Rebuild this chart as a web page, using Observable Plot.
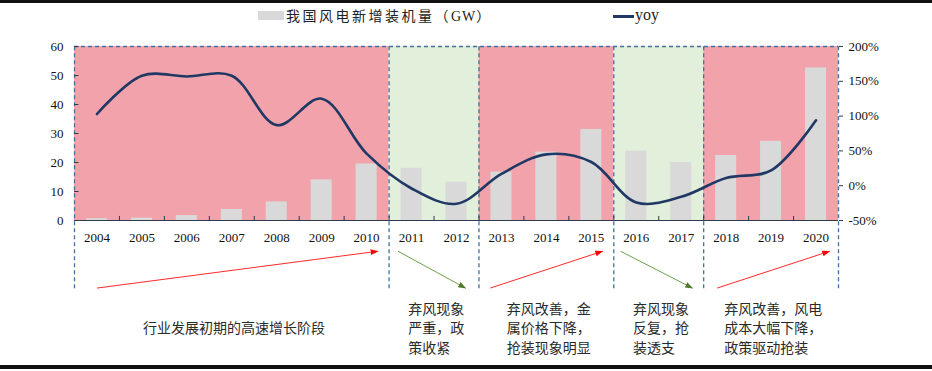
<!DOCTYPE html>
<html>
<head>
<meta charset="utf-8">
<script src="https://cdn.jsdelivr.net/npm/d3@7"></script>
<script src="https://cdn.jsdelivr.net/npm/@observablehq/plot@0.6"></script>
<style>
  html, body { margin: 0; padding: 0; background: #fff; }
  #wrap { position: relative; width: 932px; height: 371px; overflow: hidden; background: #fff; }
  .hbar { position: absolute; left: 0; width: 932px; background: #111; z-index: 2; }
  #chart { position: absolute; left: 0; top: 0; }
  #legend { position: absolute; left: 0; top: 0; width: 932px; height: 30px; font-family: "Liberation Serif", "Noto Sans CJK SC", serif; color: #222; }
  .sw { position: absolute; }
  .lt { position: absolute; white-space: nowrap; line-height: 1; }
  .cjk { font-family: "Noto Sans CJK SC", sans-serif; letter-spacing: 2.5px; }
  g[aria-label="notes"] text { letter-spacing: 2.5px; }
  g[aria-label="year labels"] text { letter-spacing: 1px; }
</style>
</head>
<body>
<div id="wrap">
  <div class="hbar" style="top:0;height:3px"></div>
  <div id="chart"></div>
  <div id="legend"></div>
  <div class="hbar" style="top:365px;height:4px"></div>
</div>
<script>
// ---------- data ----------
const years = [2004, 2005, 2006, 2007, 2008, 2009, 2010, 2011, 2012, 2013, 2014, 2015, 2016, 2017, 2018, 2019, 2020];
const newInstallGW = [0.6, 0.8, 1.7, 3.8, 6.4, 14.0, 19.5, 18.0, 13.2, 16.7, 23.6, 31.4, 23.9, 20.0, 22.4, 27.3, 52.6];
const yoyPct = [103, 158, 157, 158, 87, 125, 46, -4, -26, 17, 45, 34, -24, -16, 11, 22, 94];

const leftTicks = [0, 10, 20, 30, 40, 50, 60];
const rightTicks = [-50, 0, 50, 100, 150, 200];

const phaseStart = [2004, 2011, 2013, 2016, 2018];
const phaseEnd = [2010, 2012, 2015, 2017, 2020];
const phaseTrend = ["up", "down", "up", "down", "up"];
const phaseNotes = [
  "行业发展初期的高速增长阶段",
  "弃风现象\n严重，政\n策收紧　",
  "弃风改善，金\n属价格下降，\n抢装现象明显",
  "弃风现象\n反复，抢\n装透支　",
  "弃风改善，风电\n成本大幅下降，\n政策驱动抢装　"
];
// arrow annotations (in year units)
const arrowFromYear = [2004.0, 2010.7, 2012.75, 2015.65, 2017.8];
const arrowToYear = [2010.25, 2012.2, 2015.25, 2017.25, 2020.3];

const legendBarLabel = "我国风电新增装机量（GW）";
const legendLineLabel = "yoy";

// ---------- layout / style ----------
const gwMin = 0, gwMax = 60;
const pctMin = rightTicks[0], pctMax = rightTicks[rightTicks.length - 1];
const toLeft = p => (p - pctMin) * (gwMax - gwMin) / (pctMax - pctMin) + gwMin;
const fromLeft = v => (v - gwMin) * (pctMax - pctMin) / (gwMax - gwMin) + pctMin;

const yearLabelLevel = -5.9;
const arrowLow = -23.3, arrowHigh = -10.6;
const dashBottom = -23.5;
const noteLevel = -36.7;
const bottomLevel = -50;

const PINK = "#F2A2AB", GREEN = "#E2EFDA", BARC = "#D9D9D9", NAVY = "#1F3864", DASH = "#41719C";
const RED = "#FF2A2A", OLIVE = "#6E9E4A";

const bars = years.map((year, i) => ({year, gw: newInstallGW[i], yoy: yoyPct[i]}));
const phases = phaseStart.map((s, i) => ({start: s, end: phaseEnd[i], trend: phaseTrend[i], note: phaseNotes[i],
  ax1: arrowFromYear[i], ax2: arrowToYear[i]}));
const boundaries = [phaseStart[0] - 0.5, ...phaseEnd.map(e => e + 0.5)];
const xMin = years[0] - 0.5, xMax = years[years.length - 1] + 0.5;
const innerTicks = years.slice(0, -1).map(y => y + 0.5);

function headMarker(color, context) {
  const doc = (context && context.document) || document;
  const ns = "http://www.w3.org/2000/svg";
  const m = doc.createElementNS(ns, "marker");
  m.setAttribute("viewBox", "-5 -5 10 10");
  m.setAttribute("markerWidth", 8);
  m.setAttribute("markerHeight", 8);
  m.setAttribute("markerUnits", "userSpaceOnUse");
  m.setAttribute("refX", 4);
  m.setAttribute("refY", 0);
  m.setAttribute("orient", "auto");
  const p = doc.createElementNS(ns, "path");
  p.setAttribute("d", "M-5,-3.6L5,0L-5,3.6Z");
  p.setAttribute("fill", color === OLIVE ? "#4F7A2E" : "#FF0000");
  p.setAttribute("stroke", "none");
  m.appendChild(p);
  return m;
}

const chart = Plot.plot({
  width: 932,
  height: 371,
  marginTop: 46,
  marginLeft: 74,
  marginRight: 94,
  marginBottom: 6,
  x: {type: "linear", domain: [xMin, xMax], axis: null, label: null},
  y: {domain: [bottomLevel, gwMax], label: null},
  color: {domain: ["up", "down"], range: [PINK, GREEN]},
  style: {fontFamily: "'Liberation Serif', 'Times New Roman', serif", fontSize: "13px", color: "#111", background: "transparent", overflow: "visible"},
  marks: [
    Plot.rect(phases, {x1: d => d.start - 0.5, x2: d => d.end + 0.5, y1: gwMin, y2: gwMax, fill: "trend"}),
    Plot.rect(bars, {x1: d => d.year - 0.234, x2: d => d.year + 0.234, y1: gwMin, y2: "gw", fill: BARC}),
    Plot.ruleX(boundaries, {y1: dashBottom, y2: gwMax, stroke: DASH, strokeWidth: 1.3, strokeDasharray: "4,3"}),
    Plot.ruleY([gwMax], {x1: xMin, x2: xMax, stroke: DASH, strokeWidth: 1.3, strokeDasharray: "4,3"}),
    Plot.ruleY([gwMin], {x1: xMin, x2: xMax, stroke: "#2E3B4E", strokeWidth: 1.2}),
    Plot.ruleX(innerTicks, {y1: gwMin, y2: 1.4, stroke: "#2E3B4E", strokeWidth: 1}),
    Plot.ruleY(leftTicks, {x1: xMin, x2: xMin + 0.1, stroke: "#2E3B4E", strokeWidth: 1}),
    Plot.line(bars, {x: "year", y: d => toLeft(d.yoy), curve: "catmull-rom", stroke: NAVY, strokeWidth: 2.6}),
    Plot.axisY(leftTicks, {anchor: "left", tickSize: 0, tickPadding: 11, fontSize: 13, label: null}),
    Plot.axisY(rightTicks.map(toLeft), {anchor: "right", tickSize: 4, tickPadding: 6, fontSize: 13, stroke: "#2E3B4E", label: null,
      tickFormat: v => `${Math.round(fromLeft(v))}%`}),
    Plot.text(years, {x: d => d, y: yearLabelLevel, text: d => String(d), fontSize: 13, fill: "#111", ariaLabel: "year labels"}),
    Plot.link(phases.filter(d => d.trend === "up"), {x1: "ax1", x2: "ax2", y1: arrowLow, y2: arrowHigh, stroke: RED, strokeWidth: 1, markerEnd: headMarker}),
    Plot.link(phases.filter(d => d.trend === "down"), {x1: "ax1", x2: "ax2", y1: arrowHigh, y2: arrowLow, stroke: OLIVE, strokeWidth: 1, markerEnd: headMarker}),
    Plot.text(phases, {x: d => (d.start + d.end) / 2 + 0.05, y: noteLevel, text: "note", lineAnchor: "middle", lineHeight: 1.39,
      fontSize: 14, fontFamily: "'Noto Sans CJK SC', sans-serif", fill: "#2a2a2a", ariaLabel: "notes"})
  ]
});
document.getElementById("chart").appendChild(chart);

// legend (HTML, above the svg)
const legend = document.getElementById("legend");
legend.innerHTML = `
  <div class="sw" style="left:258px;top:11px;width:26px;height:9px;background:${BARC}"></div>
  <div class="lt cjk" style="left:286px;top:8px;font-size:14px;">${legendBarLabel.replace("GW", '<span style="font-family:Liberation Serif,serif;letter-spacing:1px">GW</span>')}</div>
  <div class="sw" style="left:613px;top:15px;width:21px;height:3px;background:${NAVY}"></div>
  <div class="lt" style="left:635px;top:7px;font-size:16px;font-family:'Liberation Serif',serif;">${legendLineLabel}</div>
`;
</script>
</body>
</html>
